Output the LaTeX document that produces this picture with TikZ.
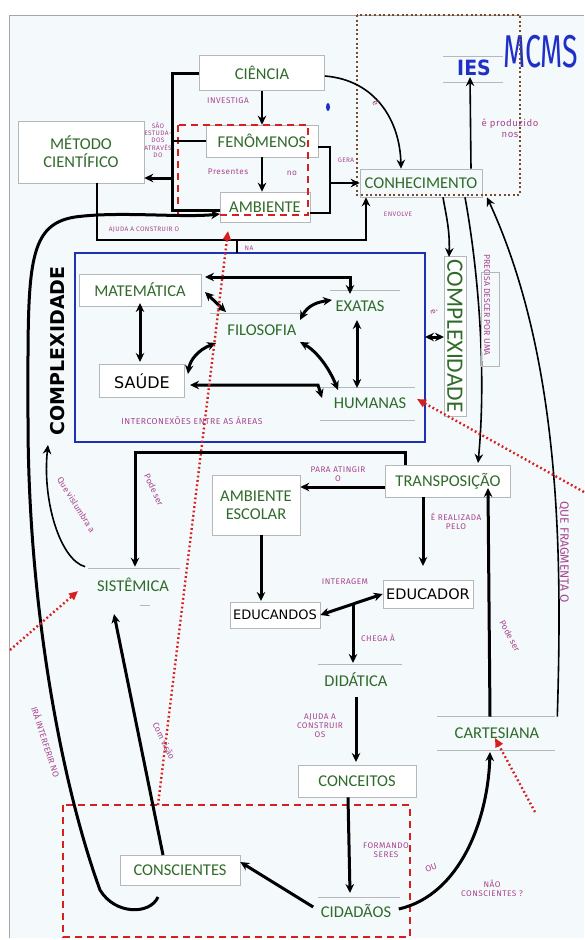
\documentclass[tikz,border=0pt]{standalone}
\usepackage{fontspec}
\setmainfont{Carlito}
\newfontfamily\handfont{DejaVu Sans}
\newfontfamily\notefont{Fira Sans}[LetterSpace=6]
\newfontfamily\notefontplain{Fira Sans}
\usetikzlibrary{arrows.meta,calc}
\definecolor{paper}{HTML}{F4F9FB}
\definecolor{cgreen}{HTML}{2F6B2A}
\definecolor{notepink}{HTML}{A8458E}
\definecolor{boxline}{HTML}{B4B8BA}
\definecolor{frameblue}{HTML}{1E30B4}
\definecolor{dashred}{HTML}{D81F1F}
\definecolor{dotbrown}{HTML}{7A4A2A}
\definecolor{inkblue}{HTML}{1F2FC8}
\tikzset{
  >={Stealth[length=9pt,width=8.5pt]},
  concept/.style={draw=boxline, line width=0.6pt, fill=white, text=cgreen,
    font=\fontsize{16.5}{18}\selectfont, inner sep=2pt, align=center},
  handbox/.style={draw=boxline, line width=0.6pt, fill=white, text=black,
    font=\handfont\fontsize{14}{15}\selectfont, inner sep=2pt},
  note/.style={text=notepink, font=\notefont\fontsize{8.2}{9}\selectfont,
    align=center, inner sep=0.5pt},
  turnnote/.style={note, font=\notefontplain\fontsize{8.6}{9.4}\selectfont},
  smallnote/.style={note, font=\notefont\fontsize{6.5}{7.2}\selectfont},
  bignote/.style={note, font=\notefont\fontsize{9.5}{10.5}\selectfont},
  wire/.style={line width=1.6pt, black},
  wirebold/.style={line width=3pt, black},
  reddots/.style={dashred, line width=2.4pt, dash pattern=on 1.8pt off 2.6pt,
    -{Triangle[length=9pt,width=8pt]}},
}
\begin{document}
\begin{tikzpicture}[x=1pt,y=-1pt]
\useasboundingbox (0,0) rectangle (584,940);
% sheet and frame
\fill[white] (0,0) rectangle (584,940);
\fill[paper] (9,15) rectangle (584,938);
\draw[gray!70, line width=1pt] (9,938) -- (9,15) -- (584,15);

% top cluster
\node[concept, minimum width=125, minimum height=35] (cien) at (262,73) {CIÊNCIA};
\node[concept, minimum width=112, minimum height=32] (fen) at (262,141) {FENÔMENOS};
\node[concept, minimum width=90, minimum height=30] (amb) at (265,207) {AMBIENTE};
\node[concept, minimum width=126, minimum height=62] (met) at (81,152) {MÉTODO\\CIENTÍFICO};
\node[concept, minimum width=122, minimum height=28, fill=none] (conh) at (421,183) {CONHECIMENTO};
\node[text=inkblue, font=\handfont\bfseries\fontsize{21}{22}\selectfont, inner sep=1pt, xscale=0.9] (ies) at (474,68) {IES};
\node[text=inkblue, font=\notefontplain\fontsize{46}{46}\selectfont, anchor=west, inner sep=0pt, xscale=0.62] (mcms) at (503,52) {MCMS};
\draw[boxline, line width=0.6pt] (443,56) -- (503,56) (443,82) -- (503,82);

% dashed and dotted frames
\draw[dashred, line width=2pt, dash pattern=on 7pt off 5pt] (178,125) rectangle (308,215);
\draw[dotbrown, line width=2.2pt, dash pattern=on 2pt off 2.6pt] (357,15) rectangle (520,195);
\fill[inkblue] (328,107) ellipse (2pt and 4pt);

% complexity box
\draw[frameblue, line width=1.8pt] (75,253) rectangle (425,442);
\node[concept, minimum width=122, minimum height=32] (mat) at (140,290) {MATEMÁTICA};
\node[handbox, minimum width=85, minimum height=33, font=\handfont\fontsize{16}{17}\selectfont] (sau) at (142,381) {SAÚDE};
\node[concept, minimum width=90, minimum height=30, draw=none, fill=none] (fil) at (262,330) {FILOSOFIA};
\draw[boxline, line width=0.6pt] (210,313) -- (300,313);
\node[concept, minimum width=82, minimum height=30, draw=none, fill=none] (exa) at (360,306) {EXATAS};
\draw[boxline, line width=0.6pt] (330,290) -- (400,290);
\node[concept, minimum width=100, minimum height=32, draw=none, fill=none] (hum) at (370,403) {HUMANAS};
\draw[boxline, line width=0.6pt] (320,387) -- (415,387) (320,420) -- (415,420);
\node[text=black, font=\handfont\bfseries\fontsize{19}{19}\selectfont, rotate=90, inner sep=0pt] (cpxl) at (58,351) {COMPLEXIDADE};
\node[concept, rotate=-90, minimum width=160, minimum height=22, inner sep=1pt,
  font=\fontsize{23.5}{23.5}\selectfont] (cpxr) at (455,336) {COMPLEXIDADE};

% lower concepts
\node[concept, minimum width=125, minimum height=32] (trans) at (448,481) {TRANSPOSIÇÃO};
\node[concept, minimum width=88, minimum height=60] (ambesc) at (256,505) {AMBIENTE\\ESCOLAR};
\node[concept, minimum width=95, minimum height=36, draw=none, fill=none] (sis) at (133,585) {SISTÊMICA};
\draw[boxline, line width=0.6pt] (88,568) -- (180,568) (140,605) -- (150,605);
\node[handbox, minimum width=90, minimum height=26, font=\handfont\fontsize{13}{14}\selectfont] (educa) at (275,615) {EDUCANDOS};
\node[handbox, minimum width=90, minimum height=28, font=\handfont\fontsize{14.5}{15}\selectfont] (educ) at (428,594) {EDUCADOR};
\node[concept, minimum width=85, minimum height=32, draw=none, fill=none] (did) at (356,680) {DIDÁTICA};
\draw[boxline, line width=0.6pt] (318,664) -- (402,664);
\node[concept, minimum width=118, minimum height=32] (conc) at (357,781) {CONCEITOS};
\node[concept, minimum width=85, minimum height=30, draw=none, fill=none] (cid) at (356,911) {CIDADÃOS};
\draw[boxline, line width=0.6pt] (318,897) -- (400,897);
\node[concept, minimum width=120, minimum height=30] (consc) at (180,870) {CONSCIENTES};
\node[concept, minimum width=120, minimum height=32, draw=none, fill=none] (cart) at (497,733) {CARTESIANA};
\draw[boxline, line width=0.6pt] (437,716) -- (555,716) (437,750) -- (555,750);
\draw[dashred, line width=2pt, dash pattern=on 7pt off 5pt] (63,805) rectangle (410,937);

% ---- connectors, top ----
\draw[wire,->] (cien.south) -- (cien.south |- fen.north);
\node[note] (n1) at (228,101) {INVESTIGA};
\draw[wire,->] (fen.south) -- (fen.south |- amb.north);
\node[note] (n2) at (228,172) {Presentes};
\node[note] (n3) at (292,173) {no};
\coordinate (lbt) at (172,73);
\coordinate (lbb) at (172,210);
\draw[wirebold] (cien.west) -- (lbt) -- (lbb) -- (amb.west |- lbb);
\draw[wire] (fen.west) -- (fen.west -| lbt);
\draw[wirebold,->] (172,178) -- (met.east |- 0,178);
\node[smallnote] (n4) at (158,140) {SÃO\\ESTUDA-\\DOS\\ATRAVÉS\\DO};
\coordinate (rbt) at (330,147);
\coordinate (rbb) at (330,213);
\draw[wire] (fen.east |- rbt) -- (rbt) -- (rbb) -- (amb.east |- rbb);
\draw[wire,->] (330,183) -- (conh.west);
\node[smallnote] (n5) at (346,160) {GERA};
\draw[wire,->] ([yshift=-3pt]cien.east) .. controls (375,80) and (400,120) .. ([xshift=-20pt]conh.north);
\node[turnnote, rotate=-60] (n6) at (376,103) {é};
\draw[wire,->] ([xshift=50pt]conh.north) -- (ies.south -| 470,0);
\node[bignote] (n7) at (510,128) {é produzido\\nos};
\draw[wire,->] (97,183) -- (97,240) -- (366,240) -- (conh.south -| 366,0);
\node[smallnote] (n8) at (144,230) {AJUDA A CONSTRUIR O};
\draw[wire] (237,240) -- (237,253);
\node[smallnote] (n9) at (249,248) {NA};
\draw[wirebold,->] (158,897) .. controls (150,915) and (115,915) .. (100,890)
  .. controls (60,780) and (28,600) .. (28,420)
  .. controls (28,270) and (25,225) .. (75,217)
  .. controls (120,211) and (180,218) .. (220,214);
\node[turnnote, rotate=-72] (n10) at (46,742) {IRÁ INTERFERIR NO};

% ---- connectors, complexity box ----
\draw[wirebold,<->] (140,303) -- (140,362);
\draw[wirebold,<->] (205,277) -- (350,277) -- (350,294);
\draw[wirebold,<->] (226,312) -- (205,292);
\draw[wirebold,<->] (216,343) .. controls (198,350) and (190,360) .. (188,374);
\draw[wirebold,<->] (190,385) -- (318,385) -- (322,398);
\draw[wirebold,<->] (300,320) .. controls (308,305) and (318,302) .. (332,300);
\draw[wirebold,<->] (300,342) .. controls (318,352) and (330,370) .. (338,390);
\draw[wirebold,<->] (357,320) -- (357,388);
\node[note, font=\notefont\fontsize{8.6}{9}\selectfont] (n11) at (192,421) {INTERCONEXÕES ENTRE AS ÁREAS};
\draw[wirebold,<->] (425,337) -- (444,337);
\node[turnnote, rotate=-70] (n12) at (434,312) {é};
\draw[wire,->] ([xshift=22pt]conh.south) .. controls (446,215) and (450,230) .. (449,257);
\node[smallnote] (n13) at (398,214) {ENVOLVE};
\draw[wire,->] ([xshift=44pt]conh.south) .. controls (480,280) and (486,380) .. (478,463);
\node[turnnote, rotate=-90] (n14) at (487,305) {PRECISA DESCER POR UMA};
\draw[boxline, line width=0.5pt] (481,272) rectangle (499,366);
\draw[wire,->] (cart.north east) .. controls (562,560) and (562,360) .. ([xshift=66pt]conh.south);
\node[turnnote, rotate=-90, font=\notefontplain\fontsize{12}{12}\selectfont] (n15) at (564,552) {QUE FRAGMENTA O};
\draw[wirebold,->] (cart.north -| 490,0) -- (488,488);
\node[turnnote, rotate=-62] (n16) at (510,636) {Pode ser};
\draw[wire,->] (sis.north west) .. controls (60,560) and (42,500) .. (48,445);
\node[turnnote, rotate=-58] (n17) at (76,505) {Que vislumbra a};

% ---- connectors, lower part ----
\draw[wirebold,->] (trans.north west) ++(20,0) coordinate (tu) -- (tu |- 0,452) -- (135,452) -- (sis.north -| 135,0);
\node[turnnote, rotate=-65] (n18) at (154,490) {Pode ser};
\draw[wirebold,->] ([yshift=-6pt]trans.west) -- (ambesc.east |- 0,487);
\node[note] (n19) at (338,474) {PARA ATINGIR\\O};
\draw[wirebold,->] (423,497) -- (423,566);
\node[note] (n20) at (456,521) {É REALIZADA\\PELO};
\draw[wirebold,->] (ambesc.south -| 261,0) -- (261,601);
\draw[wirebold,<->] (educa.east) -- (educ.west);
\node[note] (n21) at (345,582) {INTERAGEM};
\draw[wirebold,->] (353,605) -- (353,663);
\node[note] (n22) at (378,638) {CHEGA À};
\draw[wirebold,->] (356,697) -- (356,762);
\node[note] (n23) at (320,726) {AJUDA A\\CONSTRUIR\\OS};
\draw[wirebold,->] (conc.south -| 348,0) -- (350,893);
\node[note] (n24) at (386,850) {FORMANDO\\SERES};
\draw[wirebold,->] ([yshift=4pt]cid.west) -- ([yshift=8pt]consc.east);
\draw[wirebold,->] ([yshift=2pt]cid.east) .. controls (460,895) and (488,820) .. (490,752);
\node[turnnote, rotate=20] (n25) at (431,868) {OU};
\node[note] (n26) at (492,888) {NÃO\\CONSCIENTES ?};
\draw[wirebold,->] (163,855) -- (114,614);
\node[turnnote, rotate=-64] (n27) at (164,741) {Com visão};

% red pointers
\draw[reddots] (158,805) -- (228,231);
\draw[reddots] (10,650) -- (78,591);
\draw[reddots] (584,492) -- (417,399);
\draw[reddots] (535,812) -- (495,738);
\end{tikzpicture}
\end{document}
